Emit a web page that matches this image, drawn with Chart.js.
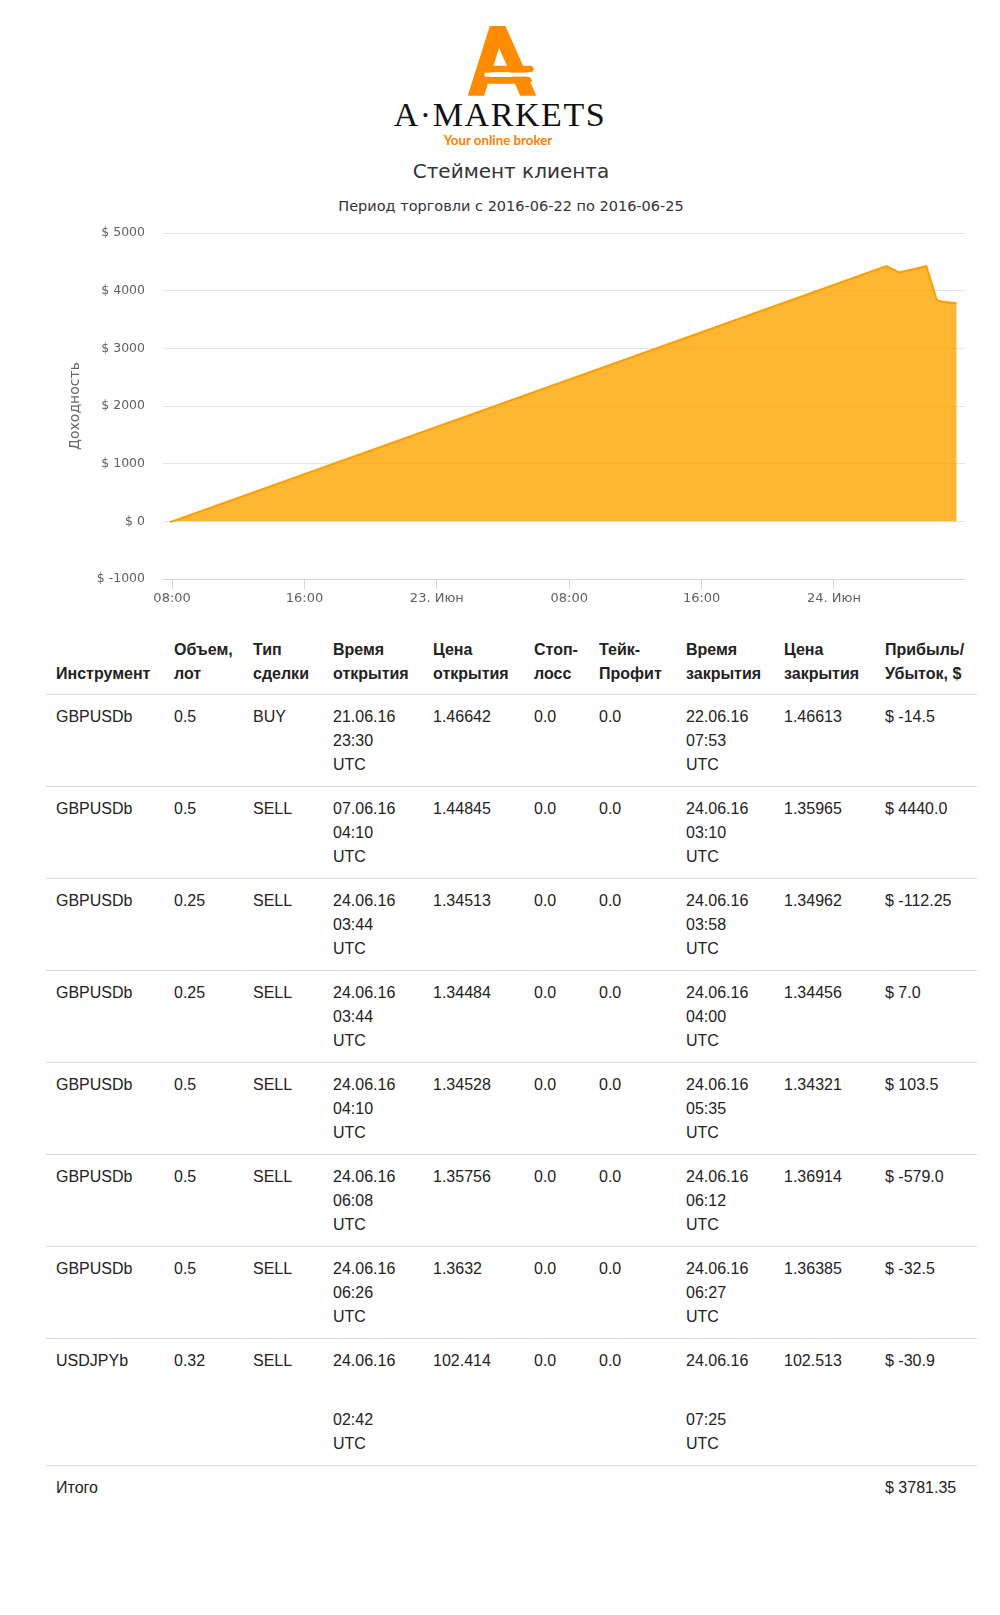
<!DOCTYPE html>
<html lang="ru">
<head>
<meta charset="utf-8">
<title>Стеймент клиента</title>
<script src="https://cdn.jsdelivr.net/npm/chart.js@4.4.1/dist/chart.umd.min.js"></script>
<style>
  html, body { margin: 0; padding: 0; background: #fff; }
  body { width: 1000px; height: 1615px; position: relative; overflow: hidden; }
  .abs { position: absolute; white-space: nowrap; }
  #brand { left: 0; width: 1000px; text-align: center; top: 98px; font-family: "Liberation Serif", "DejaVu Serif", serif;
           font-size: 34px; line-height: 34px; letter-spacing: 1.6px; color: #111; }
  #slogan { left: 0; width: 996px; text-align: center; top: 131px; font-family: Lato, "Open Sans", sans-serif;
            font-weight: bold; font-size: 13.3px; line-height: 18px; color: #ff8000; }
  #title { left: 22px; width: 978px; text-align: center; top: 158px; font-family: "DejaVu Sans", sans-serif;
           font-size: 20px; line-height: 26px; color: #333; }
  #subtitle { left: 22px; width: 978px; text-align: center; top: 197px; font-family: "DejaVu Sans", sans-serif;
              font-size: 14.5px; line-height: 18px; color: #333; }
  #chartWrap { position: absolute; left: 45px; top: 215px; width: 932px; height: 400px; }
  #report { position: absolute; left: 46px; top: 638px; width: 931px; border-collapse: collapse; table-layout: fixed;
            font-family: "Liberation Sans", Arial, sans-serif; font-size: 16px; color: #222; }
  #report th { text-align: left; vertical-align: bottom; font-weight: bold; line-height: 23.5px;
               padding: 0 4px 9px 12px; border-bottom: 1px solid #dcdcdc; color: #222; }
  #report td { text-align: left; vertical-align: top; line-height: 24px; padding: 10px 4px 9px 12px;
               border-bottom: 1px solid #dcdcdc; }
  #report th:first-child, #report td:first-child { padding-left: 10px; }
  #report tr.total td { border-bottom: none; }
  .gap { display: block; }
</style>
</head>
<body>
<svg class="abs" style="left:450px;top:20px" width="90" height="80" viewBox="0 0 270 240">
  <g fill="#ff8c00" stroke="#ff8c00" stroke-width="4" stroke-linejoin="round">
    <polygon points="121,20 165,20 101,225 56,225"/>
    <polygon points="121,20 165,20 256,225 212,225"/>
    <polygon points="108,139 244,139 250,147 244,155 108,155"/>
    <polygon points="101,173 238,173 244,181 238,189 101,189"/>
  </g>
  <rect x="104" y="158" width="156" height="12" fill="#fff"/>
</svg>
<div id="brand" class="abs">A·MARKETS</div>
<div id="slogan" class="abs">Your online broker</div>
<div id="title" class="abs">Стеймент клиента</div>
<div id="subtitle" class="abs">Период торговли с 2016-06-22 по 2016-06-25</div>
<div id="chartWrap"><canvas id="chart" width="932" height="400"></canvas></div>
<table id="report">
  <colgroup>
    <col style="width:116px"><col style="width:79px"><col style="width:80px"><col style="width:100px">
    <col style="width:101px"><col style="width:65px"><col style="width:87px"><col style="width:98px">
    <col style="width:101px"><col style="width:104px">
  </colgroup>
  <thead><tr id="headRow"></tr></thead>
  <tbody id="body"></tbody>
</table>
<script>
// ---- chart data ----
const closeTimes = ['2016-06-22T07:53Z', '2016-06-24T03:10Z', '2016-06-24T03:58Z', '2016-06-24T04:00Z',
                    '2016-06-24T05:35Z', '2016-06-24T06:12Z', '2016-06-24T06:27Z', '2016-06-24T07:25Z'];
const balance = [-14.5, 4425.5, 4313.25, 4320.25, 4423.75, 3844.75, 3812.25, 3781.35];
const xTickTimes = ['2016-06-22T08:00Z', '2016-06-22T16:00Z', '2016-06-23T00:00Z',
                    '2016-06-23T08:00Z', '2016-06-23T16:00Z', '2016-06-24T00:00Z'];
const xTickLabels = ['08:00', '16:00', '23. Июн', '08:00', '16:00', '24. Июн'];
const xRange = ['2016-06-22T07:27Z', '2016-06-24T07:55Z'];
const yTicks = [-1000, 0, 1000, 2000, 3000, 4000, 5000];
const yTitle = 'Доходность';

// ---- table data ----
const headers = ['Инструмент', 'Объем,<br>лот', 'Тип<br>сделки', 'Время<br>открытия', 'Цена<br>открытия',
                 'Стоп-<br>лосс', 'Тейк-<br>Профит', 'Время<br>закрытия', 'Цена<br>закрытия', 'Прибыль/<br>Убыток, $'];
const instruments = ['GBPUSDb', 'GBPUSDb', 'GBPUSDb', 'GBPUSDb', 'GBPUSDb', 'GBPUSDb', 'GBPUSDb', 'USDJPYb'];
const volumes = ['0.5', '0.5', '0.25', '0.25', '0.5', '0.5', '0.5', '0.32'];
const dealTypes = ['BUY', 'SELL', 'SELL', 'SELL', 'SELL', 'SELL', 'SELL', 'SELL'];
const openDates = ['21.06.16', '07.06.16', '24.06.16', '24.06.16', '24.06.16', '24.06.16', '24.06.16', '24.06.16'];
const openClock = ['23:30', '04:10', '03:44', '03:44', '04:10', '06:08', '06:26', '02:42'];
const openPrices = ['1.46642', '1.44845', '1.34513', '1.34484', '1.34528', '1.35756', '1.3632', '102.414'];
const stopLoss = ['0.0', '0.0', '0.0', '0.0', '0.0', '0.0', '0.0', '0.0'];
const takeProfit = ['0.0', '0.0', '0.0', '0.0', '0.0', '0.0', '0.0', '0.0'];
const closeDates = ['22.06.16', '24.06.16', '24.06.16', '24.06.16', '24.06.16', '24.06.16', '24.06.16', '24.06.16'];
const closeClock = ['07:53', '03:10', '03:58', '04:00', '05:35', '06:12', '06:27', '07:25'];
const closePrices = ['1.46613', '1.35965', '1.34962', '1.34456', '1.34321', '1.36914', '1.36385', '102.513'];
const profits = ['$ -14.5', '$ 4440.0', '$ -112.25', '$ 7.0', '$ 103.5', '$ -579.0', '$ -32.5', '$ -30.9'];
const totalLabel = 'Итого';
const totalValue = '$ 3781.35';

// ---- build table ----
const extraGap = { 7: 34.5 };   // layout: the last row has a tall gap before the time line
document.getElementById('headRow').innerHTML = headers.map(h => '<th>' + h + '</th>').join('');
const tb = document.getElementById('body');
let html = '';
instruments.forEach((inst, i) => {
  const gap = extraGap[i] ? '<span class="gap" style="height:' + extraGap[i] + 'px"></span>' : '<br>';
  const dt = (d, t) => d + gap + t + '<br>UTC';
  html += '<tr>' + [inst, volumes[i], dealTypes[i], dt(openDates[i], openClock[i]), openPrices[i],
    stopLoss[i], takeProfit[i], dt(closeDates[i], closeClock[i]), closePrices[i], profits[i]]
    .map(c => '<td>' + c + '</td>').join('') + '</tr>';
});
html += '<tr class="total"><td>' + totalLabel + '</td>' + '<td></td>'.repeat(8) + '<td>' + totalValue + '</td></tr>';
tb.innerHTML = html;

// ---- chart ----
const tickFontX = { family: 'DejaVu Sans', size: 13 };
const tickFontY = { family: 'DejaVu Sans', size: 12.5 };
new Chart(document.getElementById('chart'), {
  type: 'line',
  data: {
    datasets: [{
      data: closeTimes.map((t, i) => ({ x: Date.parse(t), y: balance[i] })),
      borderColor: '#ff9c00',
      backgroundColor: 'rgba(255,165,0,0.8)',
      borderWidth: 2,
      pointRadius: 0,
      tension: 0,
      fill: 'origin'
    }]
  },
  options: {
    responsive: false,
    animation: false,
    layout: { padding: { top: 18, right: 12, left: 0, bottom: 0 } },
    plugins: { legend: { display: false }, tooltip: { enabled: false } },
    scales: {
      x: {
        type: 'linear',
        min: Date.parse(xRange[0]),
        max: Date.parse(xRange[1]),
        afterBuildTicks: s => { s.ticks = xTickTimes.map(t => ({ value: Date.parse(t) })); },
        afterFit: s => { s.height = 36; },
        ticks: { callback: (v, i) => xTickLabels[i], font: tickFontX, color: '#606060', padding: 2,
                 maxRotation: 0, autoSkip: false },
        grid: { drawOnChartArea: false, drawTicks: true, tickLength: 10, color: '#ccd6eb' },
        border: { display: true, color: '#ccd6eb', width: 1 }
      },
      y: {
        min: yTicks[0],
        max: yTicks[yTicks.length - 1],
        afterBuildTicks: s => { s.ticks = yTicks.map(v => ({ value: v })); },
        afterFit: s => { s.width = 118; s.paddingTop = 0; s.paddingBottom = 0; },
        ticks: { callback: v => '$ ' + v, font: tickFontY, color: '#606060', padding: 18 },
        grid: { drawTicks: false, color: c => (c.tick && c.tick.value === yTicks[0]) ? 'rgba(0,0,0,0)' : '#e6e6e6' },
        border: { display: false },
        title: { display: true, text: yTitle, color: '#666', font: { family: 'DejaVu Sans', size: 14 },
                 padding: { top: 22, bottom: 0 } }
      }
    }
  }
});
</script>
</body>
</html>
